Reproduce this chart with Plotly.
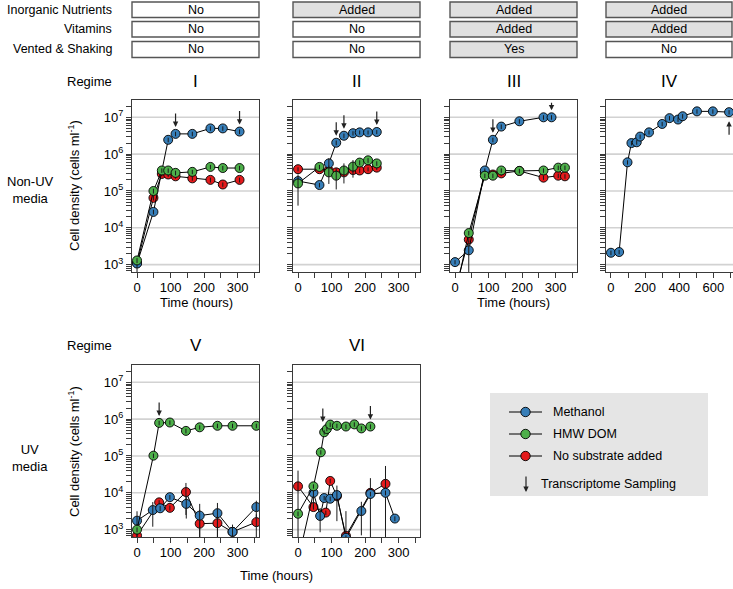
import math
import plotly.graph_objects as go

W, H = 733, 589

# ---------------- data ----------------
# Regime I (non-UV)
I_t_meth = [0, 49, 93, 115, 165, 219, 256, 306]
I_meth = [1.07e3, 2.7e4, 2.45e6, 3.55e6, 3.55e6, 5.0e6, 5.0e6, 4.1e6]
I_meth_sd = [6e2, 4e3, 3.5e5, 5e5, 5e5, 7e5, 7e5, 6e5]
I_t_hmw = [0, 49, 74, 93, 115, 165, 219, 256, 306]
I_hmw = [1.3e3, 1.0e5, 3.6e5, 3.6e5, 3.1e5, 3.3e5, 4.5e5, 4.2e5, 4.2e5]
I_hmw_sd = [2e2, 1.5e4, 5e4, 5e4, 4.5e4, 4.5e4, 6e4, 6e4, 6e4]
I_t_none = [0, 49, 74, 93, 115, 165, 219, 256, 306]
I_none = [1.1e3, 6.5e4, 2.9e5, 2.8e5, 2.5e5, 2.2e5, 2.0e5, 1.5e5, 2.0e5]
I_none_sd = [2e2, 1e4, 4e4, 4e4, 3.5e4, 3e4, 3e4, 2e4, 3e4]
I_arrow_t = [115, 306]
I_arrow_v = [3.55e6, 4.1e6]

# Regime II
II_t_meth = [0, 64, 92, 114, 137, 164, 184, 209, 235]
II_meth = [1.86e5, 1.45e5, 5.6e5, 2.04e6, 3.16e6, 3.7e6, 3.9e6, 3.9e6, 4.0e6]
II_meth_sd = [3e4, 2e4, 2.2e5, 3e5, 4.5e5, 5e5, 5e5, 5e5, 5e5]
II_t_hmw = [0, 64, 92, 114, 137, 164, 184, 209, 235]
II_hmw = [1.6e5, 4.5e5, 3.2e5, 2.6e5, 3.6e5, 4.6e5, 5.9e5, 6.8e5, 5.6e5]
II_hmw_sd = [1.2e5, 6e4, 1.65e5, 1.5e5, 2.0e5, 2.3e5, 9e4, 1e5, 8e4]
II_t_none = [0, 64, 92, 114, 137, 164, 184, 209, 235]
II_none = [3.9e5, 3.9e5, 3.6e5, 3.2e5, 3.2e5, 3.7e5, 3.6e5, 3.9e5, 4.3e5]
II_none_sd = [5e4, 5e4, 5e4, 4.5e4, 4.5e4, 5e4, 5e4, 5e4, 6e4]
II_arrow_t = [114, 137, 235]
II_arrow_v = [2.04e6, 3.16e6, 4.0e6]

# Regime III
III_t_meth = [0, 41, 89, 113, 138, 192, 264, 288]
III_meth = [1.17e3, 2.45e3, 3.6e5, 2.45e6, 5.6e6, 7.8e6, 1.0e7, 1.0e7]
III_meth_sd = [1.5e2, 2.0e3, 5e4, 3.5e5, 8e5, 1.1e6, 1.4e6, 1.4e6]
III_t_hmw = [0, 41, 89, 113, 138, 192, 264, 308, 328]
III_hmw = [150, 7.2e3, 2.6e5, 2.6e5, 3.6e5, 3.5e5, 3.6e5, 4.3e5, 4.3e5]
III_hmw_sd = [20, 1e3, 3.5e4, 3.5e4, 5e4, 5e4, 5e4, 6e4, 6e4]
III_t_none = [0, 41, 89, 113, 138, 192, 264, 308, 328]
III_none = [200, 4.8e3, 3.2e5, 2.8e5, 3.0e5, 3.5e5, 2.3e5, 2.6e5, 2.5e5]
III_none_sd = [30, 7e2, 4.5e4, 4e4, 4e4, 5e4, 3e4, 3.5e4, 3.5e4]
III_arrow_t = [113, 288]
III_arrow_v = [2.45e6, 1.0e7]

# Regime IV (methanol only)
IV_t_meth = [0, 48, 97, 120, 151, 171, 223, 300, 343, 393, 420, 504, 597, 692]
IV_meth = [2.1e3, 2.2e3, 6.0e5, 2.0e6, 2.1e6, 3.0e6, 3.9e6, 6.6e6, 9.5e6,
           8.7e6, 1.07e7, 1.45e7, 1.45e7, 1.38e7]
IV_meth_sd = [3e2, 3e2, 8e4, 2.8e5, 3e5, 4e5, 5e5, 9e5, 1.3e6,
              1.2e6, 1.5e6, 2e6, 2e6, 1.9e6]
IV_arrow_t = [692]
IV_arrow_v = [1.38e7]

# Regime V (UV)
V_t_meth = [0, 47, 69, 98, 147, 187, 240, 285, 356]
V_meth = [1.75e3, 3.4e3, 3.8e3, 7.6e3, 5.0e3, 2.4e3, 2.8e3, 870, 4.1e3]
V_meth_sd = [1.4e3, 2.2e3, 6e2, 1.1e3, 3e3, 2.6e3, 2.5e3, 300, 2e3]
V_t_hmw = [0, 49, 66, 98, 146, 187, 240, 285, 356]
V_hmw = [1.0e3, 1.02e5, 7.9e5, 8.1e5, 4.8e5, 6.0e5, 6.6e5, 6.6e5, 6.6e5]
V_hmw_sd = [1.5e2, 1.4e4, 1.1e5, 1.1e5, 7e4, 8e4, 9e4, 9e4, 9e4]
V_t_none = [0, 66, 98, 146, 187, 240, 285, 356]
V_none = [690, 5.5e3, 3.9e3, 1.05e4, 1.45e3, 1.5e3, 870, 1.6e3]
V_none_sd = [1e2, 8e2, 6e2, 8e3, 2e3, 1e3, 500, 1e3]
V_arrow_t = [66]
V_arrow_v = [7.9e5]

# Regime VI (UV)
VI_t_meth = [0, 46, 66, 78, 96, 116, 143, 189, 216, 261, 289]
VI_meth = [145, 1.0e4, 2.35e3, 7.2e3, 6.9e3, 8.7e3, 600, 3.2e3, 9.3e3, 1.0e4, 2.0e3]
VI_meth_sd = [20, 6e3, 1.5e3, 1.0e3, 1.0e3, 7e3, 100, 2.5e3, 1.3e3, 1.5e3, 3e2]
VI_t_hmw = [0, 46, 68, 78, 86, 96, 116, 143, 168, 189, 216]
VI_hmw = [2.7e3, 1.5e4, 1.26e5, 4.4e5, 5.4e5, 7.1e5, 6.6e5, 6.3e5, 7.2e5, 5.6e5, 6.3e5]
VI_hmw_sd = [4e2, 2e3, 1.7e4, 6e4, 7e4, 1e5, 9e4, 9e4, 1e5, 8e4, 9e4]
VI_t_none = [0, 46, 83, 96, 116, 143, 216, 261]
VI_none = [1.5e4, 4.1e3, 2.9e3, 2.1e4, 8.1e3, 680, 1.0e4, 1.75e4]
VI_none_sd = [2.5e4, 6e2, 4e2, 3e3, 1.2e3, 2.5e3, 1.5e4, 3.6e4]
VI_arrow_t = [74, 216]
VI_arrow_v = [5.4e5, 6.3e5]

# condition table
row_labels = ["Inorganic Nutrients", "Vitamins", "Vented & Shaking"]
inorganic = ["No", "Added", "Added", "Added"]
vitamins = ["No", "No", "Added", "Added"]
vented = ["No", "No", "Yes", "No"]
regimes = ["I", "II", "III", "IV", "V", "VI"]
legend_labels = ["Methanol", "HMW DOM", "No substrate added"]

# ---------------- styling ----------------
BLUE, GREEN, RED = "#377EB8", "#4DAF4A", "#E41A1C"
FONT = "Liberation Sans, Arial, sans-serif"
FRAME = "#3a3a3a"


def px(x):
    return x / W


def py(y):
    return 1 - y / H


fig = go.Figure()

panels = [
    dict(xd=(132, 259), yd=(100, 272), xr=[-15, 364], lab=True,
         series=[(I_t_none, I_none, I_none_sd, RED), (I_t_meth, I_meth, I_meth_sd, BLUE),
                 (I_t_hmw, I_hmw, I_hmw_sd, GREEN)],
         arrows=(I_arrow_t, I_arrow_v)),
    dict(xd=(293, 420), yd=(100, 272), xr=[-15, 364], lab=False,
         series=[(II_t_none, II_none, II_none_sd, RED), (II_t_meth, II_meth, II_meth_sd, BLUE),
                 (II_t_hmw, II_hmw, II_hmw_sd, GREEN)],
         arrows=(II_arrow_t, II_arrow_v)),
    dict(xd=(450, 577), yd=(100, 272), xr=[-15, 364], lab=False,
         series=[(III_t_none, III_none, III_none_sd, RED), (III_t_meth, III_meth, III_meth_sd, BLUE),
                 (III_t_hmw, III_hmw, III_hmw_sd, GREEN)],
         arrows=(III_arrow_t, III_arrow_v)),
    dict(xd=(606, 733), yd=(100, 272), xr=[-29, 715], lab=False, wide=True,
         series=[(IV_t_meth, IV_meth, IV_meth_sd, BLUE)],
         arrows=(IV_arrow_t, IV_arrow_v), up=True),
    dict(xd=(132, 259), yd=(365, 537), xr=[-15, 364], lab=True,
         series=[(V_t_none, V_none, V_none_sd, RED), (V_t_meth, V_meth, V_meth_sd, BLUE),
                 (V_t_hmw, V_hmw, V_hmw_sd, GREEN)],
         arrows=(V_arrow_t, V_arrow_v)),
    dict(xd=(293, 420), yd=(365, 537), xr=[-15, 364], lab=False,
         series=[(VI_t_none, VI_none, VI_none_sd, RED), (VI_t_meth, VI_meth, VI_meth_sd, BLUE),
                 (VI_t_hmw, VI_hmw, VI_hmw_sd, GREEN)],
         arrows=(VI_arrow_t, VI_arrow_v)),
]

YR = [2.8, 7.47]
decade_exp = [3, 4, 5, 6, 7]
tick_vals = [m * 10 ** e for e in range(2, 8) for m in range(1, 10)]
annotations = []
shapes = []

for i, p in enumerate(panels):
    n = "" if i == 0 else str(i + 1)
    xa, ya = "x" + n, "y" + n
    # decade grid lines (drawn first, under the data)
    for e in decade_exp:
        fig.add_trace(go.Scatter(
            x=p["xr"], y=[10 ** e, 10 ** e], xaxis=xa, yaxis=ya, mode="lines",
            line=dict(color="#d2d2d2", width=1.6), showlegend=False,
            hoverinfo="skip"))
    for (t, v, sd, col) in p["series"]:
        fig.add_trace(go.Scatter(
            x=t, y=v, xaxis=xa, yaxis=ya, mode="lines+markers",
            line=dict(color="black", width=1),
            marker=dict(size=9, color=col, line=dict(color="black", width=0.9)),
            showlegend=False, hoverinfo="skip"))
        fig.add_trace(go.Scatter(
            x=t, y=v, xaxis=xa, yaxis=ya, mode="markers",
            marker=dict(size=9, color="rgba(0,0,0,0)"),
            error_y=dict(type="data", array=sd, symmetric=True, color="#1a1a1a",
                         thickness=1, width=0),
            showlegend=False, hoverinfo="skip"))
    if p.get("wide"):
        xt = [0, 100, 200, 300, 400, 500, 600, 700]
        xtt = ["0", "", "200", "", "400", "", "600", ""]
    else:
        xt = [0, 50, 100, 150, 200, 250, 300, 350]
        xtt = ["0", "", "100", "", "200", "", "300", ""]
    fig.layout["xaxis" + n] = dict(
        domain=[px(p["xd"][0]), px(p["xd"][1])], range=p["xr"], anchor=ya,
        tickmode="array", tickvals=xt, ticktext=xtt, ticks="outside", ticklen=5,
        tickcolor=FRAME, tickwidth=1, showgrid=False, zeroline=False,
        showline=True, mirror=True, linecolor=FRAME, linewidth=1,
        ticklabelstandoff=-2,
        tickfont=dict(family=FONT, size=13, color="black"), fixedrange=True)
    ytext = []
    for v in tick_vals:
        e = round(math.log10(v), 6)
        if p["lab"] and e == int(e) and int(e) in decade_exp:
            ytext.append("10<sup>%d</sup>" % int(e))
        else:
            ytext.append("")
    fig.layout["yaxis" + n] = dict(
        domain=[py(p["yd"][1]), py(p["yd"][0])], type="log", range=YR,
        anchor=xa, tickmode="array", tickvals=tick_vals, ticktext=ytext,
        ticks="outside", ticklen=5, tickcolor=FRAME, tickwidth=1,
        showgrid=False, zeroline=False,
        showline=True, mirror=True, linecolor=FRAME, linewidth=1,
        tickfont=dict(family=FONT, size=13, color="black"), fixedrange=True)
    at, av = p["arrows"]
    for j, (tx, vy) in enumerate(zip(at, av)):
        if p.get("up"):
            annotations.append(dict(x=tx, y=math.log10(vy), xref=xa, yref=ya,
                                    text="", showarrow=True, ax=0, ay=15, yshift=-9,
                                    arrowhead=2, arrowsize=0.9, arrowwidth=1.2,
                                    arrowcolor="#222"))
        else:
            short = (i == 2 and j == 1)
            annotations.append(dict(x=tx, y=math.log10(vy), xref=xa, yref=ya,
                                    text="", showarrow=True, ax=0,
                                    ay=-9 if short else -15, yshift=7,
                                    arrowhead=2, arrowsize=0.9, arrowwidth=1.2,
                                    arrowcolor="#222"))


def text(x, y, s, size=12.5, xanchor="center", angle=0):
    annotations.append(dict(x=px(x), y=py(y), xref="paper", yref="paper", text=s,
                            showarrow=False, xanchor=xanchor, yanchor="middle",
                            textangle=angle,
                            font=dict(family=FONT, size=size, color="black")))


# condition table
rows_y = [(2, 17.5), (21.5, 37), (41.5, 57.5)]
cols_x = [(132, 259), (293, 420), (450, 577), (606, 732)]
for r, (lab, vals) in enumerate(zip(row_labels, [inorganic, vitamins, vented])):
    y0, y1 = rows_y[r]
    text(114, (y0 + y1) / 2, lab, xanchor="right")
    for c, val in enumerate(vals):
        x0, x1 = cols_x[c]
        fill = "white" if val == "No" else "#e0e0e0"
        shapes.append(dict(type="rect", xref="paper", yref="paper",
                           x0=px(x0), x1=px(x1), y0=py(y1), y1=py(y0),
                           fillcolor=fill, line=dict(color="#555", width=1.4)))
        text((x0 + x1) / 2, (y0 + y1) / 2, val)

# regime labels
text(114, 82, "Regime", size=13, xanchor="right")
for k in range(4):
    text(sum(panels[k]["xd"]) / 2, 82, regimes[k], size=17)
text(114, 345, "Regime", size=13, xanchor="right")
text(sum(panels[4]["xd"]) / 2, 345, regimes[4], size=17)
text(sum(panels[5]["xd"]) / 2, 345, regimes[5], size=17)

# row side labels and axis titles
text(30, 190, "Non-UV<br>media", size=13)
text(30, 458, "UV<br>media", size=13)
text(74, 186, "Cell density (cells ml<sup>-1</sup>)", size=13, angle=-90)
text(74, 452, "Cell density (cells ml<sup>-1</sup>)", size=13, angle=-90)
text(196, 302, "Time (hours)", size=13)
text(513, 302, "Time (hours)", size=13)
text(276, 575, "Time (hours)", size=13)

# legend
shapes.append(dict(type="rect", xref="paper", yref="paper", x0=px(490), x1=px(708),
                   y0=py(496), y1=py(393), fillcolor="#e5e5e5", line=dict(width=0),
                   layer="below"))
for k, (lab, col) in enumerate(zip(legend_labels, [BLUE, GREEN, RED])):
    yy = 412 + k * 22
    shapes.append(dict(type="line", xref="paper", yref="paper", x0=px(509), x1=px(542),
                       y0=py(yy), y1=py(yy), line=dict(color="black", width=1)))
    shapes.append(dict(type="circle", xref="paper", yref="paper",
                       x0=px(525.5 - 4.7), x1=px(525.5 + 4.7),
                       y0=py(yy + 4.7), y1=py(yy - 4.7), fillcolor=col,
                       line=dict(color="black", width=0.9)))
    text(551, yy, lab, xanchor="left")
annotations.append(dict(x=px(526), y=py(492), xref="paper", yref="paper", text="",
                        showarrow=True, ax=0, ay=-17, arrowhead=2, arrowsize=0.9,
                        arrowwidth=1.2, arrowcolor="#222"))
text(539, 484, "Transcriptome Sampling", xanchor="left")

fig.update_layout(width=W, height=H, autosize=False,
                  margin=dict(l=0, r=0, t=0, b=0),
                  paper_bgcolor="white", plot_bgcolor="rgba(0,0,0,0)",
                  annotations=annotations, shapes=shapes, showlegend=False,
                  font=dict(family=FONT, color="black"))

fig.write_html("out.html", config={"displayModeBar": False})

# remove the default browser page margin so the figure sits at the window origin
with open("out.html", "r", encoding="utf-8") as f:
    html = f.read()
html = html.replace("<head>", "<head><style>html,body{margin:0;padding:0;overflow:hidden;}</style>", 1)
with open("out.html", "w", encoding="utf-8") as f:
    f.write(html)
